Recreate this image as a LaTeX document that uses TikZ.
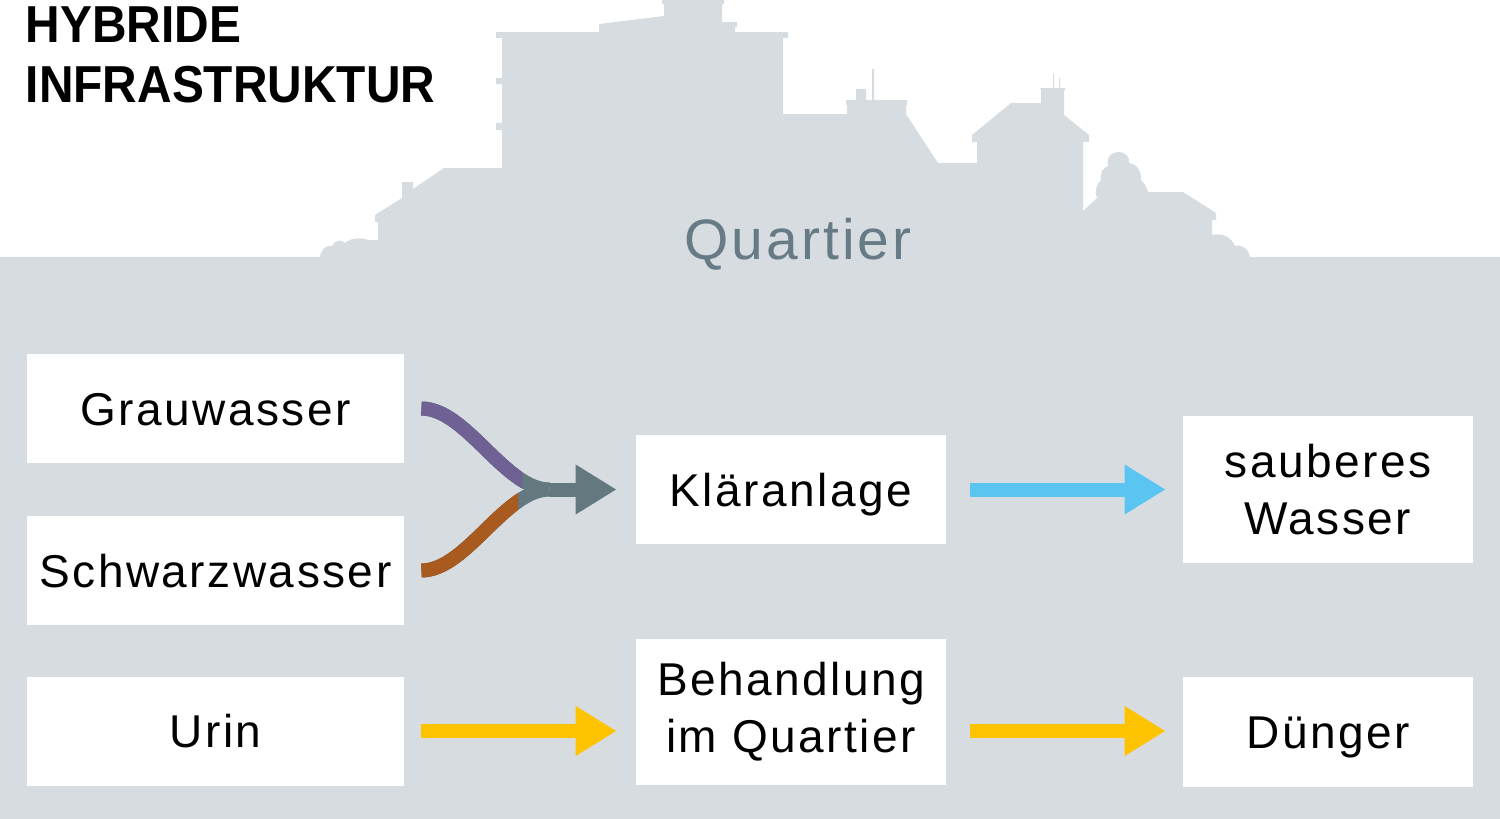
\documentclass[tikz,border=0pt]{standalone}
\usepackage{fontspec}
\setmainfont{Liberation Sans}
\newfontfamily\boxfont{Liberation Sans}[LetterSpace=5.4]
\newfontfamily\titlefont{Liberation Sans}[FakeStretch=0.92]
\usetikzlibrary{arrows.meta}

\definecolor{bggray}{HTML}{D7DCE1}
\definecolor{quartgray}{HTML}{667B86}
\definecolor{arrowgray}{HTML}{647880}
\definecolor{grauviolet}{HTML}{6F6193}
\definecolor{schwarzbraun}{HTML}{A85A1F}
\definecolor{klarblau}{HTML}{5BC5F2}
\definecolor{uringelb}{HTML}{FEC300}

\tikzset{
  box/.style={fill=white, inner sep=0pt, align=center,
    font=\boxfont\fontsize{23}{28.5}\selectfont},
  onebox/.style={box, text height=16.5pt, text depth=0pt},
  flow/.style={line width=7pt, -{Triangle[length=20.5pt,width=23.5pt]}},
  titletext/.style={anchor=base west, inner sep=0pt,
    font=\titlefont\bfseries\fontsize{26}{30}\selectfont},
}

\begin{document}
\begin{tikzpicture}[x=0.5pt,y=-0.5pt]
  \useasboundingbox (0,0) rectangle (1500,819);
  \fill[white] (0,0) rectangle (1500,819);

  % Quartier: ground and skyline
  \fill[bggray] (0,819) -- (0,257) -- (320,257)
    .. controls (321,249) and (326,245) .. (332,246)
    .. controls (335,240) and (341,239) .. (345,243)
    .. controls (350,238) and (362,237) .. (368,240)
    -- (378,240) -- (378,222) -- (375,222) -- (375,215) -- (402,198)
    -- (402,182) -- (413,182) -- (413,189) -- (444,168) -- (502,168)
    -- (502,130) -- (496,130) -- (496,123) -- (502,123)
    -- (502,84) -- (496,84) -- (496,78) -- (502,78)
    -- (502,38) -- (496,38) -- (496,32) -- (599,32) -- (599,24)
    -- (664,16) -- (664,4) -- (662,4) -- (662,0) -- (724,0) -- (724,4)
    -- (722,4) -- (722,22) -- (737,22) -- (737,27) -- (735,27) -- (735,32)
    -- (788,32) -- (788,38) -- (783,38) -- (783,114) -- (847,114)
    -- (847,105) -- (846,105) -- (846,100) -- (856,100) -- (856,89)
    -- (866,89) -- (866,100) -- (872,100) -- (872,69) -- (874,69)
    -- (874,100) -- (907,100) -- (907,105) -- (906,105) -- (906,114)
    -- (938,163) -- (977,163) -- (977,142) -- (972,142) -- (972,135)
    -- (1011,103) -- (1041,103) -- (1041,89) -- (1040,89) -- (1040,88)
    -- (1053,88) -- (1053,74) -- (1054,74) -- (1054,88) -- (1059,88)
    -- (1059,78) -- (1060,78) -- (1060,88) -- (1065,88) -- (1065,90)
    -- (1064,90) -- (1064,115) -- (1089,135) -- (1089,142) -- (1083,142)
    -- (1083,211) -- (1097,198)
    .. controls (1094,190) and (1097,184) .. (1101,180)
    .. controls (1100,172) and (1103,168) .. (1108,166)
    .. controls (1106,156) and (1112,152) .. (1119,152)
    .. controls (1126,152) and (1130,158) .. (1129,163)
    .. controls (1137,164) and (1142,172) .. (1141,180)
    .. controls (1145,184) and (1147,188) .. (1148,192)
    -- (1183,192) -- (1216,213) -- (1216,220) -- (1212,220) -- (1212,235)
    .. controls (1222,232) and (1232,238) .. (1235,246)
    .. controls (1243,244) and (1249,250) .. (1250,257)
    -- (1500,257) -- (1500,819) -- cycle;

  \node[titletext] (hybride) at (25.5,42) {HYBRIDE};
  \node[titletext] (infra) at (25.5,102) {INFRASTRUKTUR};
  \node[anchor=base, inner sep=0pt, text=quartgray,
    font=\boxfont\fontsize{28.5}{34}\selectfont] (quartier) at (798,259) {Quartier};

  % boxes
  \node[onebox, minimum width=188.5pt, minimum height=54.5pt] (grau) at (215.5,408.5) {Grauwasser};
  \node[onebox, minimum width=188.5pt, minimum height=54.5pt] (schwarz) at (215.5,570.5) {Schwarzwasser};
  \node[onebox, minimum width=188.5pt, minimum height=54.5pt] (urin) at (215.5,731) {Urin};
  \node[onebox, minimum width=155pt, minimum height=54.5pt] (klaer) at (791,489.5) {Kläranlage};
  \node[box, minimum width=155pt, minimum height=73pt] (behandl) at (791,712) {Behandlung\\im Quartier};
  \node[box, minimum width=145pt, minimum height=73.5pt] (sauber) at (1328,489.5) {sauberes\\Wasser};
  \node[onebox, minimum width=145pt, minimum height=55pt] (duenger) at (1328,732) {Dünger};

  % connectors
  \coordinate (merge) at ([xshift=-43pt]klaer.west);
  \coordinate (bin) at (urin.east -| behandl.west);
  \coordinate (bout) at (urin.east -| behandl.east);

  \draw[arrowgray, line width=7pt] ([xshift=8.5pt]grau.east) .. controls +(45,0) and +(-45,0) .. (merge);
  \draw[arrowgray, line width=7pt] ([xshift=8.5pt]schwarz.east) .. controls +(45,0) and +(-45,0) .. (merge);
  \begin{scope}
    \clip (400,380) rectangle (522,489);
    \draw[grauviolet, line width=7pt] ([xshift=8.5pt]grau.east) .. controls +(45,0) and +(-45,0) .. (merge);
  \end{scope}
  \begin{scope}
    \clip (400,489) rectangle (518,600);
    \draw[schwarzbraun, line width=7pt] ([xshift=8.5pt]schwarz.east) .. controls +(45,0) and +(-45,0) .. (merge);
  \end{scope}
  \draw[flow, arrowgray] (merge) -- ([xshift=-9.5pt]klaer.west);

  \draw[flow, klarblau] ([xshift=12pt]klaer.east) -- ([xshift=-8.5pt]sauber.west);
  \draw[flow, uringelb] ([xshift=8.5pt]urin.east) -- ([xshift=-9.5pt]bin);
  \draw[flow, uringelb] ([xshift=12pt]bout) -- ([xshift=-8.5pt]bout -| duenger.west);
\end{tikzpicture}
\end{document}
